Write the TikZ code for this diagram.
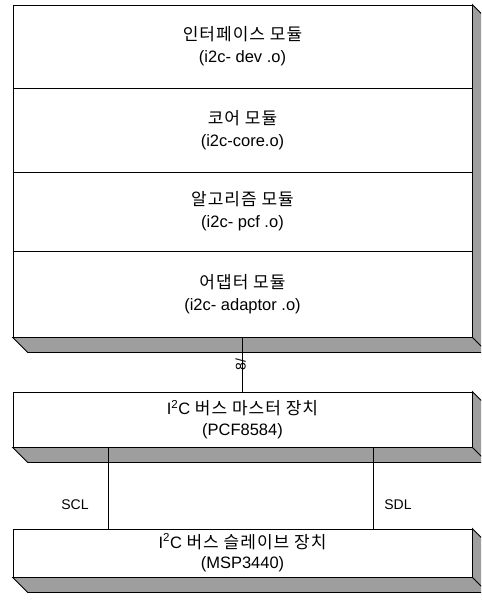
\documentclass[tikz,border=0pt]{standalone}
\usepackage{fontspec}
\setmainfont{Liberation Sans}
\newfontfamily\kr[LetterSpace=6]{Noto Sans CJK KR}
\usetikzlibrary{calc}
\tikzset{
  front/.style={draw, line width=0.8pt, fill=white, minimum width=459pt, inner sep=0pt,
    align=center, font=\fontsize{16.5}{22}\selectfont},
  tight/.style={font=\fontsize{16.5}{20.5}\selectfont},
  shadowst/.style={draw, line width=0.8pt, fill=black!38, line join=miter},
  wire/.style={line width=0.7pt},
  lbl/.style={font=\fontsize{14}{16}\selectfont, inner sep=0pt},
}
\newcommand\krt[1]{{\kr\fontsize{17}{20}\selectfont #1}}
\newcommand\slabshadow[2]{%
  \draw[shadowst] (#2.south west) -- ++(15,15) -- ($(#2.south east)+(15,15)$)
    -- ($(#1.north east)+(15,15)$) -- (#1.north east) -- (#2.south east) -- cycle;
  \draw[line width=0.8pt] (#2.south east) -- ++(15,15);
}
\begin{document}
\begin{tikzpicture}[x=1pt,y=-1pt]
\useasboundingbox (0,0) rectangle (481,601);
\clip (0,0) rectangle (481,601);
\fill[white] (0,0) rectangle (481,601);
% big stack
\node[front, minimum height=83pt] (r1) at (242.5,46.5) {\krt{인터페이스 모듈}\\(i2c- dev .o)};
\node[front, minimum height=84pt] (r2) at (242.5,130) {\krt{코어 모듈}\\(i2c-core.o)};
\node[front, minimum height=79pt] (r3) at (242.5,211.5) {\krt{알고리즘 모듈}\\(i2c- pcf .o)};
\node[front, minimum height=86pt] (r4) at (242.5,294) {\krt{어댑터 모듈}\\(i2c- adaptor .o)};
\slabshadow{r1}{r4}
% master
\node[front, tight, minimum height=55pt] (m) at (242.5,419.5) {I\textsuperscript{2}C \krt{버스 마스터 장치}\\(PCF8584)};
\slabshadow{m}{m}
% slave
\node[front, tight, minimum height=48pt] (s) at (242.5,553) {I\textsuperscript{2}C \krt{버스 슬레이브 장치}\\(MSP3440)};
\slabshadow{s}{s}
% connectors
\draw[wire] (r4.south) -- (m.north);
\node[lbl, rotate=90] (eight) at ($(r4.south)!0.5!(m.north)+(-2,0)$) {8/};
\coordinate (sclx) at (108,0);
\coordinate (sdlx) at (373,0);
\draw[wire] (m.south -| sclx) -- (s.north -| sclx);
\draw[wire] (m.south -| sdlx) -- (s.north -| sdlx);
\node[lbl] (scl) at (75,505) {SCL};
\node[lbl] (sdl) at (398,505) {SDL};
\end{tikzpicture}
\end{document}
